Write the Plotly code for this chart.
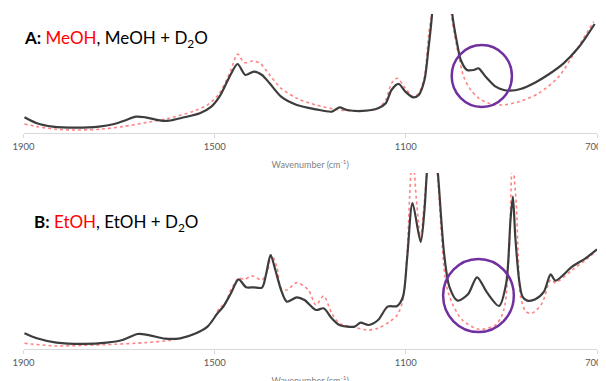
import plotly.graph_objects as go

# ---------- Panel A : MeOH (red, dotted) and MeOH + D2O (black) ----------
a_black_wn = [1898, 1872, 1839, 1790, 1742, 1710, 1685, 1665, 1645, 1612, 1596, 1564, 1531, 1507,
              1490, 1474, 1466, 1452, 1436, 1418, 1401, 1385, 1361, 1328, 1288, 1255, 1239, 1223,
              1190, 1158, 1142, 1130, 1115, 1101, 1085, 1073, 1061, 1053, 1045, 1035, 1015, 1003,
              993, 985, 972, 958, 948, 933, 912, 895, 882, 860, 830, 800, 770, 740, 720, 705]
a_black_val = [0.48, 0.30, 0.20, 0.17, 0.20, 0.28, 0.40, 0.50, 0.48, 0.38, 0.38, 0.48, 0.60, 0.80,
               1.10, 1.55, 1.78, 2.08, 1.75, 1.85, 1.75, 1.50, 1.10, 0.85, 0.72, 0.65, 0.78, 0.70,
               0.67, 0.75, 0.90, 1.30, 1.48, 1.25, 1.08, 1.15, 1.60, 2.50, 3.60, 6.50, 6.50, 3.60,
               2.72, 2.20, 1.90, 1.90, 1.95, 1.70, 1.40, 1.30, 1.28, 1.33, 1.52, 1.78, 2.10, 2.55, 2.95, 3.28]

a_red_wn = [1898, 1872, 1831, 1790, 1742, 1693, 1645, 1596, 1547, 1515, 1490, 1466, 1452, 1438,
            1421, 1405, 1385, 1361, 1328, 1288, 1247, 1223, 1190, 1158, 1142, 1130, 1118, 1101,
            1085, 1073, 1061, 1052, 1046, 1036, 1016, 1005, 989, 979, 964, 947, 926, 898, 863,
            822, 780, 752, 707]
a_red_val = [0.28, 0.20, 0.12, 0.10, 0.12, 0.20, 0.32, 0.45, 0.65, 0.85, 1.20, 1.90, 2.38, 2.12,
             2.17, 2.10, 1.75, 1.35, 1.05, 0.85, 0.72, 0.68, 0.67, 0.75, 1.00, 1.50, 1.65, 1.35,
             1.10, 1.20, 1.70, 3.00, 3.60, 6.50, 6.50, 3.60, 2.30, 1.70, 1.30, 1.05, 0.90, 0.85, 0.95,
             1.20, 1.70, 2.30, 3.35]

# ---------- Panel B : EtOH (red, dotted) and EtOH + D2O (black) ----------
b_black_wn = [1898, 1872, 1831, 1774, 1726, 1693, 1661, 1636, 1604, 1572, 1539, 1515, 1494, 1482,
              1466, 1450, 1434, 1418, 1401, 1392, 1383, 1373, 1361, 1349, 1328, 1312, 1288, 1272,
              1255, 1239, 1207, 1195, 1178, 1158, 1138, 1118, 1106, 1097, 1086, 1069, 1061, 1056,
              1045, 1033, 1020, 1009, 992, 970, 951, 930, 905, 890, 881, 876, 871, 863, 856, 846,
              829, 811, 797, 787, 752, 724, 700]
b_black_val = [0.48, 0.33, 0.20, 0.16, 0.20, 0.28, 0.46, 0.42, 0.32, 0.33, 0.48, 0.68, 1.08, 1.28,
               1.68, 2.10, 1.86, 1.86, 1.85, 2.28, 2.83, 2.38, 1.78, 1.43, 1.56, 1.48, 1.18, 1.23,
               0.93, 0.73, 0.68, 0.80, 0.73, 0.88, 1.28, 1.30, 1.58, 2.78, 4.39, 3.22, 4.18, 5.30,
               7.00, 5.30, 2.88, 1.88, 1.46, 1.65, 2.16, 1.70, 1.30, 1.98, 3.88, 4.58, 3.38, 2.08, 1.58, 1.46,
               1.50, 1.73, 2.25, 2.06, 2.48, 2.73, 3.00]

b_red_wn = [1898, 1831, 1774, 1709, 1645, 1588, 1539, 1511, 1490, 1478, 1466, 1450, 1438, 1421,
            1401, 1389, 1381, 1370, 1361, 1349, 1328, 1304, 1288, 1272, 1255, 1239, 1207, 1182,
            1158, 1134, 1118, 1106, 1097, 1092, 1086, 1078, 1069, 1062, 1056, 1045, 1034, 1016,
            1003, 982, 947, 912, 895, 884, 877, 869, 865, 860, 849, 836, 815, 797, 787, 752, 724, 703]
b_red_val = [0.18, 0.10, 0.12, 0.15, 0.20, 0.28, 0.48, 0.73, 1.23, 1.38, 1.78, 2.13, 2.10, 2.20,
             2.08, 2.38, 2.83, 2.48, 1.83, 1.78, 2.00, 1.78, 1.33, 1.60, 1.08, 0.78, 0.66, 0.58,
             0.63, 0.83, 1.03, 1.48, 2.98, 4.60, 6.00, 4.50, 3.35, 4.30, 5.30, 7.00, 5.30, 1.98,
             1.38, 0.88, 0.60, 0.73, 1.18, 2.88, 5.60, 4.38, 2.88, 1.58, 1.13, 1.08, 1.38, 2.08, 2.00,
             2.38, 2.68, 2.93]

tick_vals = [1900, 1500, 1100, 700]
tick_text = ["1900", "1500", "1100", "700\u00a0\u00a0\u00a0"]
x_title = "Wavenumber (cm<sup>-1</sup>)"
label_a = "<b>A:</b> <span style='color:#ff0000'>MeOH</span>, MeOH + D<sub>2</sub>O"
label_b = "<b>B:</b> <span style='color:#ff0000'>EtOH</span>, EtOH + D<sub>2</sub>O"

RED = "rgba(255,90,90,0.75)"
BLACK = "#3d3d3d"
PURPLE = "#7030A0"

W, H = 606, 381
OFF = 8  # page body margin offset

fig = go.Figure()
fig.add_trace(go.Scatter(x=a_red_wn, y=a_red_val, mode="lines", line=dict(color=RED, width=1.6, dash="dot", shape="spline", smoothing=0.8), xaxis="x", yaxis="y", showlegend=False))
fig.add_trace(go.Scatter(x=a_black_wn, y=a_black_val, mode="lines", line=dict(color=BLACK, width=2.2, shape="spline", smoothing=0.8), xaxis="x", yaxis="y", showlegend=False))
fig.add_trace(go.Scatter(x=b_red_wn, y=b_red_val, mode="lines", line=dict(color=RED, width=1.6, dash="dot", shape="spline", smoothing=0.8), xaxis="x2", yaxis="y2", showlegend=False))
fig.add_trace(go.Scatter(x=b_black_wn, y=b_black_val, mode="lines", line=dict(color=BLACK, width=2.2, shape="spline", smoothing=0.8), xaxis="x2", yaxis="y2", showlegend=False))

xdom = [(23.5 - OFF) / W, (597 - OFF) / W]
common_x = dict(range=[1900, 700], domain=xdom, tickmode="array", tickvals=tick_vals, ticktext=tick_text,
                showline=True, linecolor="#d9d9d9", linewidth=1, ticks="outside", ticklen=4,
                tickcolor="#d9d9d9", tickfont=dict(family="Lato", size=9.5, color="#595959"),
                ticklabeloverflow="allow",
                showgrid=False, zeroline=False, automargin=False,
                title=dict(text=x_title, font=dict(family="Lato", size=9, color="#7f7f7f"), standoff=10))

def ydom(top, bottom):
    return [(H - (bottom - OFF)) / H, (H - (top - OFF)) / H]

fig.update_layout(
    width=W, height=H, margin=dict(l=0, r=0, t=0, b=0),
    paper_bgcolor="white", plot_bgcolor="white", template="none",
    xaxis=dict(anchor="y", **common_x),
    yaxis=dict(domain=ydom(14, 133.3), range=[0, 3.58], visible=False),
    xaxis2=dict(anchor="y2", **common_x),
    yaxis2=dict(domain=ydom(173, 349.3), range=[0, 5.29], visible=False),
    annotations=[
        dict(text=label_a, xref="paper", yref="paper", x=(22 - OFF) / W, y=(H - (39 - OFF)) / H, xanchor="left",
             yanchor="middle", showarrow=False, font=dict(family="Lato", size=17, color="black")),
        dict(text=label_b, xref="paper", yref="paper", x=(32 - OFF) / W, y=(H - (223 - OFF)) / H, xanchor="left",
             yanchor="middle", showarrow=False, font=dict(family="Lato", size=17, color="black")),
    ],
    shapes=[
        dict(type="circle", xref="x", yref="y", x0=1004, x1=878, y0=0.79, y1=2.65, line=dict(color=PURPLE, width=2.5)),
        dict(type="circle", xref="x2", yref="y2", x0=1022, x1=874, y0=0.52, y1=2.71, line=dict(color=PURPLE, width=2.5)),
    ],
)

fig.write_html("out.html")
